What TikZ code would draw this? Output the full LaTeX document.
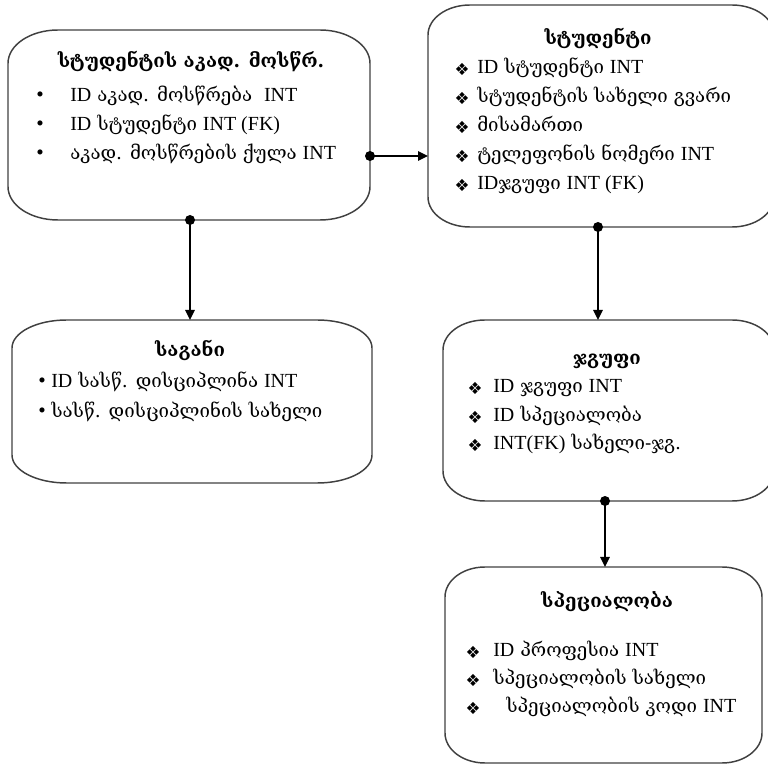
\documentclass[tikz,border=0pt]{standalone}
\usepackage{fontspec}
\setmainfont{DejaVu Serif}
\newfontfamily\latin{Liberation Serif}
\newfontfamily\symf{DejaVu Sans}
\usetikzlibrary{arrows.meta,fit}

% Latin words inside Georgian text
\newcommand\lt[1]{{\latin\fontsize{15}{17}\selectfont #1}}
% list markers
\newcommand\dmd{{\symf\fontsize{12.5}{14}\selectfont ❖}}
\newcommand\bul{{\latin\fontsize{16}{18}\selectfont •}}

% rounded box with elliptical corners around a node: name, x radius, y radius
\newcommand\ovalbox[3]{%
  \draw[boxline] ([xshift=#2]#1.north west) -- ([xshift=-#2]#1.north east)
    arc[start angle=90,end angle=0,x radius=#2,y radius=#3]
    -- ([yshift=#3]#1.south east)
    arc[start angle=0,end angle=-90,x radius=#2,y radius=#3]
    -- ([xshift=#2]#1.south west)
    arc[start angle=270,end angle=180,x radius=#2,y radius=#3]
    -- ([yshift=-#3]#1.north west)
    arc[start angle=180,end angle=90,x radius=#2,y radius=#3] -- cycle;}

\begin{document}
\begin{tikzpicture}[x=0.75pt,y=-0.75pt,
  boxarea/.style={inner sep=0pt,outer sep=0pt},
  boxline/.style={draw=black!75,line width=1.1pt},
  conn/.style={line width=1.2pt,shorten <=-3.7pt,
    {Circle[length=7.4pt]}-{Triangle[length=7.5pt,width=7pt]}},
  ttl/.style={font=\fontsize{14}{16}\selectfont\bfseries,inner sep=0pt,
    text height=10pt,text depth=3pt},
  itm/.style={anchor=west,font=\fontsize{14}{16}\selectfont,inner sep=0pt,
    text height=10pt,text depth=3pt},
  mk/.style={anchor=center,inner sep=0pt},
]
\useasboundingbox (0,0) rectangle (768,766);

% entity boxes
\node[boxarea,fit={(8,30) (370,220)}] (b1) {};
\node[boxarea,fit={(428,5) (774,227)}] (b2) {};
\node[boxarea,fit={(12,320) (372,483)}] (b3) {};
\node[boxarea,fit={(443,320) (774,501)}] (b4) {};
\node[boxarea,fit={(445,567) (762,763)}] (b5) {};
\ovalbox{b1}{37.5pt}{25pt}
\ovalbox{b2}{31.5pt}{22.5pt}
\ovalbox{b3}{41pt}{21pt}
\ovalbox{b4}{31.5pt}{22.5pt}
\ovalbox{b5}{30pt}{22.5pt}

% student progress
\node[ttl] (t1) at (191,63) {სტუდენტის აკად. მოსწრ.};
\node[mk] (m11) at (40,97) {\bul};
\node[mk] (m12) at (40,126) {\bul};
\node[mk] (m13) at (40,155) {\bul};
\node[itm] (i11) at (70,97) {\lt{ID} აკად. მოსწრება \ \lt{INT}};
\node[itm] (i12) at (70,126) {\lt{ID} სტუდენტი \lt{INT (FK)}};
\node[itm] (i13) at (70,155) {აკად. მოსწრების ქულა \lt{INT}};

% student
\node[ttl] (t2) at (598,40) {სტუდენტი};
\node[mk] (m21) at (462,69) {\dmd};
\node[mk] (m22) at (462,98) {\dmd};
\node[mk] (m23) at (462,127) {\dmd};
\node[mk] (m24) at (462,156) {\dmd};
\node[mk] (m25) at (462,185) {\dmd};
\node[itm] (i21) at (477,69) {\lt{ID} სტუდენტი \lt{INT}};
\node[itm] (i22) at (477,98) {სტუდენტის სახელი გვარი};
\node[itm] (i23) at (477,127) {მისამართი};
\node[itm] (i24) at (477,156) {ტელეფონის ნომერი \lt{INT}};
\node[itm] (i25) at (477,185) {\lt{ID}ჯგუფი \lt{INT (FK)}};

% subject
\node[ttl] (t3) at (190,352) {საგანი};
\node[mk] (m31) at (42,383) {\bul};
\node[mk] (m32) at (42,413) {\bul};
\node[itm] (i31) at (51,383) {\lt{ID} სასწ. დისციპლინა \lt{INT}};
\node[itm] (i32) at (51,413) {სასწ. დისციპლინის სახელი};

% group
\node[ttl] (t4) at (607,360) {ჯგუფი};
\node[mk] (m41) at (475,388) {\dmd};
\node[mk] (m42) at (475,417) {\dmd};
\node[mk] (m43) at (475,445) {\dmd};
\node[itm] (i41) at (493,388) {\lt{ID} ჯგუფი \lt{INT}};
\node[itm] (i42) at (493,417) {\lt{ID} სპეციალობა};
\node[itm] (i43) at (493,445) {\lt{INT(FK)} სახელი-ჯგ.};

% speciality
\node[ttl] (t5) at (607,603) {სპეციალობა};
\node[mk] (m51) at (473,652) {\dmd};
\node[mk] (m52) at (473,680) {\dmd};
\node[mk] (m53) at (473,708) {\dmd};
\node[itm] (i51) at (493,652) {\lt{ID} პროფესია \lt{INT}};
\node[itm] (i52) at (493,680) {სპეციალობის სახელი};
\node[itm] (i53) at (506,708) {სპეციალობის კოდი \lt{INT}};

% connectors
\coordinate (h1) at (0,156);
\coordinate (v1) at (190,0);
\coordinate (v2) at (598,0);
\coordinate (v3) at (605,0);
\draw[conn] (b1.east |- h1) -- (b2.west |- h1);
\draw[conn] (b1.south -| v1) -- (b3.north -| v1);
\draw[conn] (b2.south -| v2) -- (b4.north -| v2);
\draw[conn] (b4.south -| v3) -- (b5.north -| v3);
\end{tikzpicture}
\end{document}
